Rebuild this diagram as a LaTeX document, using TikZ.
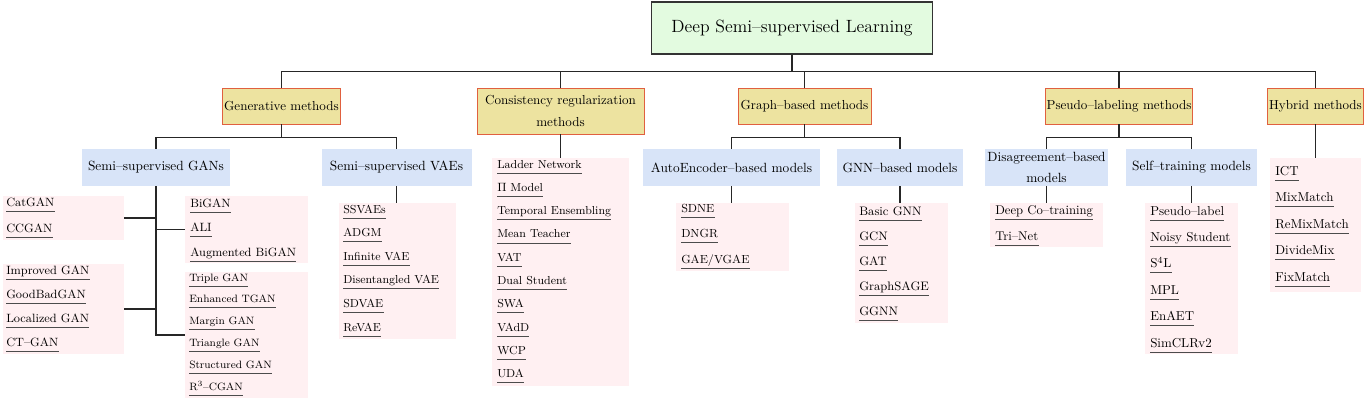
\documentclass[tikz,border=0pt]{standalone}
\usepackage{tikz}
\definecolor{rootgreen}{HTML}{E3FBE0}
\definecolor{catkhaki}{HTML}{EDE3A0}
\definecolor{catborder}{HTML}{E0603F}
\definecolor{subblue}{HTML}{D8E4F8}
\definecolor{leafpink}{HTML}{FFF0F2}
\begin{document}
\begin{tikzpicture}[
    x=0.75pt, y=-0.75pt,
    rootbox/.style={draw=black!80, line width=0.8pt, fill=rootgreen, minimum width=211pt, minimum height=39pt, font=\fontsize{13.3}{16}\selectfont},
    catbox/.style={draw=catborder, line width=0.7pt, fill=catkhaki, align=center, inner sep=1pt, minimum height=27pt, font=\fontsize{9.8}{16.5}\selectfont},
    subbox/.style={fill=subblue, align=center, inner sep=1pt, minimum height=27.75pt, font=\fontsize{10}{15.75}\selectfont},
    leafbox/.style={fill=leafpink, inner sep=0pt},
    item/.style={anchor=south west, inner sep=0pt, text depth=3.5pt},
    uline/.style={draw=black!70, line width=0.6pt},
    edge/.style={draw=black!85, line width=0.8pt}
]
\useasboundingbox (0,0) rectangle (1364,400);
% root and the five families
\node[rootbox] (root) at (792,28) {Deep Semi\textendash supervised Learning};
\node[catbox, minimum width=86.25pt] (gen) at (281.5,106) {Generative methods};
\node[catbox, minimum width=125.25pt, minimum height=34.5pt] (cons) at (560.5,111) {Consistency regularization\\methods};
\node[catbox, minimum width=99.75pt] (graph) at (804.5,106) {Graph\textendash based methods};
\node[catbox, minimum width=108pt] (pseudo) at (1119,106) {Pseudo\textendash labeling methods};
\node[catbox, minimum width=69.75pt] (hybrid) at (1315.5,106) {Hybrid methods};
% second level
\node[subbox, minimum width=111pt] (gans) at (156,167.5) {Semi\textendash supervised GANs};
\node[subbox, minimum width=112.5pt] (vaes) at (396.5,167.5) {Semi\textendash supervised VAEs};
\node[subbox, minimum width=132.75pt] (ae) at (731.5,167.5) {AutoEncoder\textendash based models};
\node[subbox, minimum width=94.5pt] (gnn) at (900,167.5) {GNN\textendash based models};
\node[subbox, minimum width=92.25pt] (dis) at (1046.5,167.5) {Disagreement\textendash based\\models};
\node[subbox, minimum width=98.25pt] (self) at (1191.5,167.5) {Self\textendash training models};
% leaf panels
\node[leafbox, minimum width=90.75pt, minimum height=33pt] (g1) at (63.5,218) {};
\node[leafbox, minimum width=92.25pt, minimum height=50.25pt] (g2) at (246.5,229.5) {};
\node[leafbox, minimum width=90.75pt, minimum height=67.5pt] (g3) at (63.5,309) {};
\node[leafbox, minimum width=92.25pt, minimum height=94.5pt] (g4) at (246.5,335) {};
\node[leafbox, minimum width=87.75pt, minimum height=102pt] (vl) at (397.5,271) {};
\node[leafbox, minimum width=102.75pt, minimum height=171pt] (cl) at (560.5,272) {};
\node[leafbox, minimum width=84.75pt, minimum height=51pt] (al) at (732.5,237) {};
\node[leafbox, minimum width=69.75pt, minimum height=90pt] (nl) at (901.5,263) {};
\node[leafbox, minimum width=84.75pt, minimum height=33pt] (dl) at (1046.5,225) {};
\node[leafbox, minimum width=69.75pt, minimum height=113.25pt] (sl) at (1191.5,278.5) {};
\node[leafbox, minimum width=68.25pt, minimum height=100.5pt] (hl) at (1315.5,225) {};
% underlined methods
\foreach \g/\fs/\x/\y/\d/\names in {
    g1/9/6/211/26/{CatGAN,CCGAN},
    g2/9/190/212/24.5/{BiGAN,ALI,Augmented BiGAN},
    g3/9/6/279/24/{Improved GAN,GoodBadGAN,Localized GAN,CT\textendash GAN},
    g4/8/189/286/21.8/{Triple GAN,Enhanced TGAN,Margin GAN,Triangle GAN,Structured GAN,R$^3$\textendash CGAN},
    vl/8.7/343/218/23.6/{SSVAEs,ADGM,Infinite VAE,Disentangled VAE,SDVAE,ReVAE},
    cl/8.7/497/173/23.3/{Ladder Network,$\Pi$ Model,Temporal Ensembling,Mean Teacher,VAT,Dual Student,SWA,VAdD,WCP,UDA},
    al/8.8/681/217/25.5/{SDNE,DNGR,GAE{/}VGAE},
    nl/9.2/859/220/25/{Basic GNN,GCN,GAT,GraphSAGE,GGNN},
    dl/9.5/995/219/26/{Deep Co\textendash training,Tri\textendash Net},
    sl/9.7/1150/220/26.4/{Pseudo\textendash label,Noisy Student,S$^4$L,MPL,EnAET,SimCLRv2},
    hl/9.7/1275/180/26.5/{ICT,MixMatch,ReMixMatch,DivideMix,FixMatch}}{
  \begin{scope}[font=\fontsize{\fs}{12}\selectfont]
    \foreach \t [count=\i from 0] in \names {
      \node[item] (\g-\i) at (\x,{\y+\i*\d}) {\t};
      \draw[uline] (\g-\i.south west) -- (\g-\i.south east);
    }
  \end{scope}
}
% tree edges
\foreach \c in {gen,cons,graph,pseudo,hybrid} \draw[edge] (root.south) -- ++(0,17) -| (\c.north);
\foreach \c in {gans,vaes} \draw[edge] (gen.south) -- ++(0,13) -| (\c.north);
\foreach \c in {ae,gnn} \draw[edge] (graph.south) -- ++(0,13) -| (\c.north);
\foreach \c in {dis,self} \draw[edge] (pseudo.south) -- ++(0,13) -| (\c.north);
\foreach \l/\a in {g1/east,g2/west,g3/east,g4/west} \draw[edge] (gans.south) |- (\l.\a);
\foreach \x/\y in {vaes/vl, cons/cl, ae/al, gnn/nl, dis/dl, self/sl, hybrid/hl} \draw[edge] (\x.south) -- (\x.south |- \y.north);
\end{tikzpicture}
\end{document}
